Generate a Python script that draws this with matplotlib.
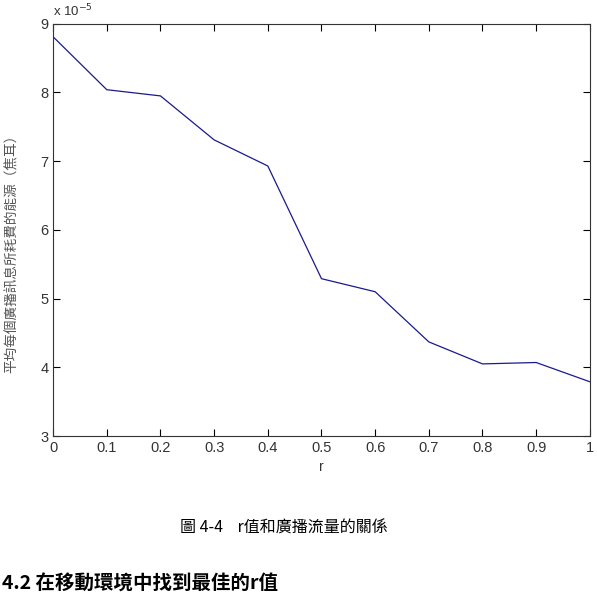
import matplotlib.pyplot as plt
import numpy as np

plt.rcParams['font.family'] = ['Liberation Sans', 'Noto Sans CJK TC', 'DejaVu Sans']

# r values and energy per broadcast message (x 1e-5)
r_values = [0, 0.1, 0.2, 0.3, 0.4, 0.5, 0.6, 0.7, 0.8, 0.9, 1.0]
energy = [8.81, 8.04, 7.95, 7.31, 6.93, 5.29, 5.10, 4.37, 4.05, 4.07, 3.79]

x_ticks = [0, 0.1, 0.2, 0.3, 0.4, 0.5, 0.6, 0.7, 0.8, 0.9, 1]
x_labels = ['0', '0.1', '0.2', '0.3', '0.4', '0.5', '0.6', '0.7', '0.8', '0.9', '1']
y_ticks = [3, 4, 5, 6, 7, 8, 9]

ylabel = '平均每個廣播訊息所耗費的能源（焦耳）'
caption = '圖 4-4    r值和廣播流量的關係'
heading = '4.2 在移動環境中找到最佳的r值'

fig = plt.figure(figsize=(5.97, 6.09), dpi=100)
ax = fig.add_axes([0.089, 0.284, 0.899, 0.677])
ax.plot(r_values, energy, color='#1a1a8c', linewidth=0.9)

ax.set_xlim(0, 1)
ax.set_ylim(3, 9)
ax.set_xticks(x_ticks)
ax.set_xticklabels(x_labels)
ax.set_yticks(y_ticks)
ax.tick_params(direction='in', top=True, right=True, labelsize=10.5,
               labelcolor='#333333', length=5, width=0.8)
for s in ax.spines.values():
    s.set_linewidth(0.8)
    s.set_color('#333333')

ax.set_xlabel('r', fontsize=10, color='#333333', labelpad=4)
ax.set_ylabel(ylabel, fontsize=9.8, color='#555555',
              family=['Noto Sans CJK TC', 'DejaVu Sans'])
ax.yaxis.set_label_coords(-0.064, 0.45)
ax.text(0.0, 1.012, r'x 10$^{-5}$', transform=ax.transAxes, fontsize=9.5,
        color='#333333', va='bottom', ha='left')

fig.text(0.475, 0.133, caption, fontsize=11.5, ha='center', va='center',
         family=['Noto Sans CJK TC', 'DejaVu Sans'])
fig.text(0.003, 0.04, heading, fontsize=14, ha='left', va='center',
         weight='bold', family=['Noto Sans CJK TC', 'DejaVu Sans'])

fig.savefig('out.png', dpi=100, facecolor='white')
